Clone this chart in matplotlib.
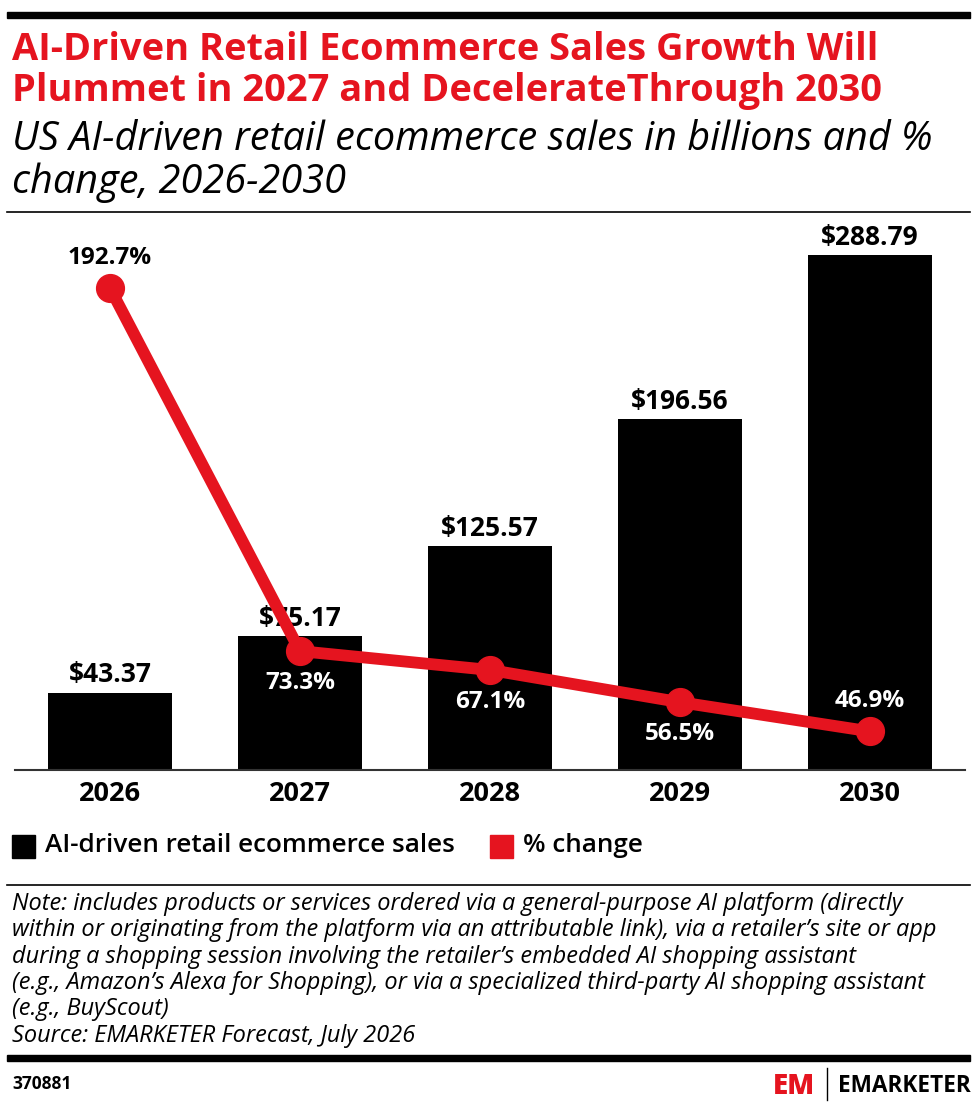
import numpy as np
import matplotlib.pyplot as plt
from matplotlib.patches import Rectangle

plt.rcParams['font.family'] = ['Open Sans', 'DejaVu Sans']

years = ['2026', '2027', '2028', '2029', '2030']
sales = [43.37, 75.17, 125.57, 196.56, 288.79]
pct_change = [192.7, 73.3, 67.1, 56.5, 46.9]
pct_label_pos = ['above', 'below', 'below', 'below', 'above']

RED = '#e5141f'
W, H = 980, 1109

fig = plt.figure(figsize=(W / 100, H / 100), dpi=100)


def fy(py):
    return 1 - py / H


def fx(px):
    return px / W


# top thick rule
fig.add_artist(Rectangle((fx(7), fy(18)), fx(963), 6 / H, color='black', transform=fig.transFigure))

fig.text(fx(12), fy(50), 'AI-Driven Retail Ecommerce Sales Growth Will', color=RED,
         fontsize=27.4, fontweight='bold', va='center')
fig.text(fx(12), fy(91), 'Plummet in 2027 and DecelerateThrough 2030', color=RED,
         fontsize=27.4, fontweight='bold', va='center')
fig.text(fx(12), fy(140), 'US AI-driven retail ecommerce sales in billions and %',
         fontsize=28.5, style='italic', va='center')
fig.text(fx(12), fy(183), 'change, 2026-2030', fontsize=28.5, style='italic', va='center')

fig.add_artist(plt.Line2D([fx(7), fx(970)], [fy(212), fy(212)], color='black', lw=1.2))

# main chart
ax = fig.add_axes([fx(15), fy(770), fx(950), 550 / H])
x = np.arange(len(years))
ax.bar(x, sales, width=0.65, color='black', zorder=2)
ax.set_xlim(-0.5, 4.5)
ax.set_ylim(0, 308.4)
for s in ['top', 'right', 'left']:
    ax.spines[s].set_visible(False)
ax.spines['bottom'].set_color('#333333')
ax.spines['bottom'].set_linewidth(1.5)
ax.set_yticks([])
ax.set_xticks(x)
ax.set_xticklabels(years, fontsize=19.5, fontweight='bold')
ax.tick_params(axis='x', length=0, pad=8)

for xi, v in zip(x, sales):
    ax.annotate(f'${v:.2f}', (xi, v), xytext=(0, 3), textcoords='offset points',
                ha='center', va='bottom', fontsize=19, fontweight='bold', zorder=6)

ax2 = ax.twinx()
ax2.set_ylim(34.2, 215.1)
ax2.axis('off')
ax2.plot(x, pct_change, color=RED, lw=8.5, marker='o', markersize=20,
         solid_capstyle='round', zorder=3)

for i, (xi, v) in enumerate(zip(x, pct_change)):
    col = 'black' if i == 0 else 'white'
    off = 22 if pct_label_pos[i] == 'above' else -23
    ax2.annotate(f'{v}%', (xi, v), xytext=(0, off), textcoords='offset points',
                 ha='center', va='center', fontsize=17.5, fontweight='bold', color=col, zorder=6)

# legend
fig.add_artist(Rectangle((fx(12), fy(858)), fx(23), 23 / H, color='black', transform=fig.transFigure))
fig.text(fx(45), fy(846), 'AI-driven retail ecommerce sales', fontsize=18.8,
         fontweight='semibold', va='center')
fig.add_artist(Rectangle((fx(490), fy(858)), fx(23), 23 / H, color=RED, transform=fig.transFigure))
fig.text(fx(523), fy(846), '% change', fontsize=18.8, fontweight='semibold', va='center')

fig.add_artist(plt.Line2D([fx(7), fx(970)], [fy(885), fy(885)], color='black', lw=1.2))

note_lines = [
    'Note: includes products or services ordered via a general-purpose AI platform (directly',
    'within or originating from the platform via an attributable link), via a retailer\u2019s site or app',
    'during a shopping session involving the retailer\u2019s embedded AI shopping assistant',
    '(e.g., Amazon\u2019s Alexa for Shopping), or via a specialized third-party AI shopping assistant',
    '(e.g., BuyScout)',
    'Source: EMARKETER Forecast, July 2026',
]
for i, line in enumerate(note_lines):
    fig.text(fx(12), fy(904 + i * 26.3), line, fontsize=16.9, style='italic', va='center')

fig.add_artist(Rectangle((fx(7), fy(1061)), fx(963), 6 / H, color='black', transform=fig.transFigure))

fig.text(fx(12), fy(1084), '370881', fontsize=12.5, fontweight='bold', va='center')

# logo
fig.text(fx(773), fy(1086), 'EM', color=RED, fontsize=20, fontweight='black', va='center')
fig.add_artist(plt.Line2D([fx(827), fx(827)], [fy(1068), fy(1100)], color='black', lw=1))
fig.text(fx(838), fy(1086), 'EMARKETER', fontsize=16.3, fontweight='bold', va='center')

fig.savefig('out.png', dpi=100)
